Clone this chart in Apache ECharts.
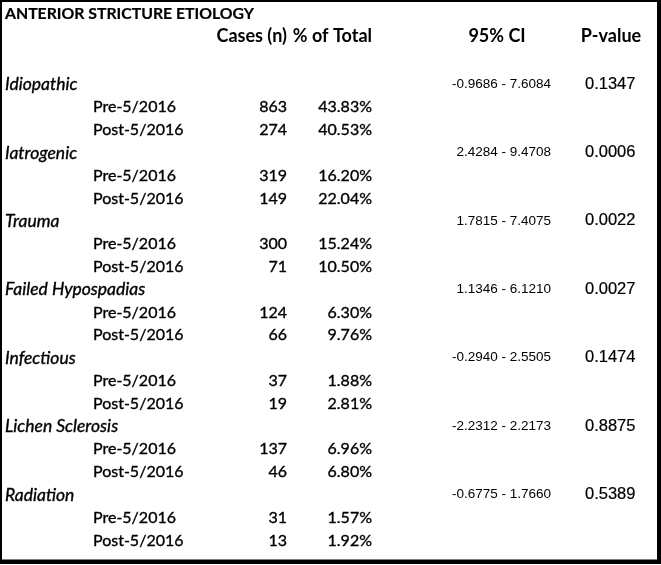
<!DOCTYPE html>
<html>
<head>
<meta charset="utf-8">
<script src="https://cdn.jsdelivr.net/npm/echarts@6/dist/echarts.min.js"></script>
<style>
html,body{margin:0;padding:0;background:#fff;}
#chart{width:661px;height:565px;}
</style>
</head>
<body>
<div id="chart"></div>
<script>
// ---- data ----
const titleText = 'ANTERIOR STRICTURE ETIOLOGY';
const headers = ['Cases (n)', '% of Total', '95% CI', 'P-value'];
const categories = ['Idiopathic', 'Iatrogenic', 'Trauma', 'Failed Hypospadias', 'Infectious', 'Lichen Sclerosis', 'Radiation'];
const periods = ['Pre-5/2016', 'Post-5/2016'];
const preCases = [863, 319, 300, 124, 37, 137, 31];
const postCases = [274, 149, 71, 66, 19, 46, 13];
const prePct = ['43.83%', '16.20%', '15.24%', '6.30%', '1.88%', '6.96%', '1.57%'];
const postPct = ['40.53%', '22.04%', '10.50%', '9.76%', '2.81%', '6.80%', '1.92%'];
const ciLow = ['-0.9686', '2.4284', '1.7815', '1.1346', '-0.2940', '-2.2312', '-0.6775'];
const ciHigh = ['7.6084', '9.4708', '7.4075', '6.1210', '2.5505', '2.2173', '1.7660'];
const pValues = ['0.1347', '0.0006', '0.0022', '0.0027', '0.1474', '0.8875', '0.5389'];

// ---- layout (column anchors on the x value axis, styles) ----
const W = 661;
const COL = { name: 5, period: 93, cases: 287, pct: 372, ci: 551, ciHead: 497, p: 585, pHead: 611 };
const CAL = 'Lato, "Open Sans", sans-serif';
const ARI = '"Liberation Sans", Arial, sans-serif';

// build rows: 0 title, 1 header, 2 blank, then 3 rows per category
const nRows = 3 + categories.length * 3;
const rowNames = [];
for (let i = 0; i < nRows; i++) rowNames.push('r' + i);

const cells = []; // [x, row, text, styleKey]
cells.push([COL.name, 0, titleText, 'title']);
cells.push([COL.cases, 1, headers[0], 'headR']);
cells.push([COL.pct, 1, headers[1], 'headR']);
cells.push([COL.ciHead, 1, headers[2], 'headC']);
cells.push([COL.pHead, 1, headers[3], 'headC']);
categories.forEach((c, k) => {
  const r = 3 + k * 3;
  cells.push([COL.name, r, c, 'cat']);
  cells.push([COL.ci, r, ciLow[k] + ' - ' + ciHigh[k], 'ci']);
  cells.push([COL.p, r, pValues[k], 'p']);
  cells.push([COL.period, r + 1, periods[0], 'body']);
  cells.push([COL.cases, r + 1, String(preCases[k]), 'bodyR']);
  cells.push([COL.pct, r + 1, prePct[k], 'bodyR']);
  cells.push([COL.period, r + 2, periods[1], 'body']);
  cells.push([COL.cases, r + 2, String(postCases[k]), 'bodyR']);
  cells.push([COL.pct, r + 2, postPct[k], 'bodyR']);
});

const styles = {
  title: { font: 'bold 15.8px ' + CAL, align: 'left', dy: -2, sw: 0.2 },
  headR: { font: 'bold 18px ' + CAL, align: 'right', dy: -2, sw: 0 },
  headC: { font: 'bold 18px ' + CAL, align: 'center', dy: -2, sw: 0 },
  cat:   { font: 'italic 17.5px ' + CAL, align: 'left', dy: 0.5, sw: 0.35 },
  body:  { font: '16px ' + CAL, align: 'left', dy: 0.5, sw: 0.35 },
  bodyR: { font: '16px ' + CAL, align: 'right', dy: 0.5, sw: 0.35 },
  ci:    { font: '13.5px ' + ARI, align: 'right', dy: 0, sw: 0 },
  p:     { font: '16.5px ' + ARI, align: 'left', dy: 0, sw: 0.2 }
};

const chart = echarts.init(document.getElementById('chart'), null, { renderer: 'canvas' });
chart.setOption({
  backgroundColor: '#fff',
  animation: false,
  grid: { left: 0, right: 0, top: 4.2, bottom: 13.6 },
  xAxis: { type: 'value', min: 0, max: W, show: false },
  yAxis: { type: 'category', data: rowNames, inverse: true, show: false },
  graphic: [
    { type: 'polyline', shape: { points: [[1, 561], [1, 1], [658, 1]] }, style: { stroke: '#000', lineWidth: 2, fill: null } },
    { type: 'rect', shape: { x: 657, y: 0, width: 4, height: 564 }, style: { fill: '#000' } },
    { type: 'rect', shape: { x: 0, y: 559.5, width: 661, height: 4.5 }, style: { fill: '#000' } }
  ],
  series: [{
    type: 'custom',
    coordinateSystem: 'cartesian2d',
    data: cells,
    encode: { x: 0, y: 1 },
    renderItem: function (params, api) {
      const d = cells[params.dataIndex];
      const pt = api.coord([d[0], d[1]]);
      const s = styles[d[3]];
      const st = { text: d[2], font: s.font, fill: '#000', align: s.align, verticalAlign: 'middle' };
      if (s.sw) { st.stroke = '#000'; st.lineWidth = s.sw; }
      return { type: 'text', x: pt[0], y: pt[1] + s.dy, style: st };
    }
  }]
});
</script>
</body>
</html>
